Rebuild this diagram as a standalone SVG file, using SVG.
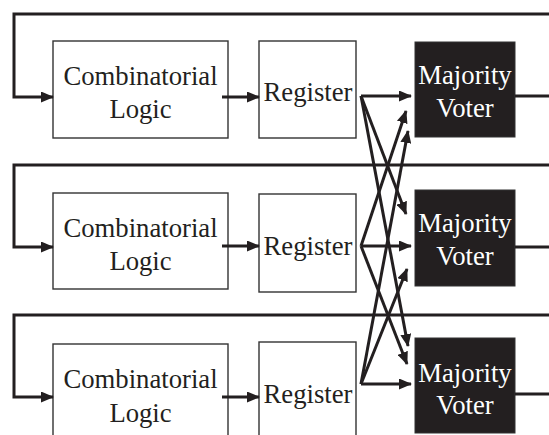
<svg xmlns="http://www.w3.org/2000/svg" width="549" height="435" viewBox="0 0 549 435">
<style>
.box{fill:#fff;stroke:#333;stroke-width:1.4}
.voter{fill:#231f20;stroke:#333;stroke-width:1}
.t{font-family:"Liberation Serif","Times New Roman",serif;font-size:26.7px;fill:#231f20;text-anchor:middle}
.tw{font-family:"Liberation Serif","Times New Roman",serif;font-size:26.7px;fill:#fff;text-anchor:middle}
.c{fill:none;stroke:#231f20;stroke-width:3}
.ca{fill:none;stroke:#231f20;stroke-width:3;marker-end:url(#ah)}
</style>
<defs>
<marker id="ah" viewBox="0 0 13 11" refX="12" refY="5.5" markerWidth="13" markerHeight="11" markerUnits="userSpaceOnUse" orient="auto">
<path d="M0,0 L13,5.5 L0,11 z" fill="#231f20"/>
</marker>
</defs>
<rect width="549" height="435" fill="#fff"/>
<g id="comb1"><rect class="box" x="53" y="41" width="175" height="97"/><text class="t" x="140.5" y="85">Combinatorial</text><text class="t" x="140.5" y="118">Logic</text></g>
<g id="reg1"><rect class="box" x="259" y="41" width="97" height="97"/><text class="t" x="308" y="101">Register</text></g>
<g id="voter1"><rect class="voter" x="415" y="42" width="100" height="95"/><text class="tw" x="465" y="84">Majority</text><text class="tw" x="465" y="117">Voter</text></g>
<g id="comb2"><rect class="box" x="53" y="193" width="175" height="96"/><text class="t" x="140.5" y="237">Combinatorial</text><text class="t" x="140.5" y="270">Logic</text></g>
<g id="reg2"><rect class="box" x="259" y="194" width="97" height="98"/><text class="t" x="308" y="255">Register</text></g>
<g id="voter2"><rect class="voter" x="415" y="190" width="100" height="96"/><text class="tw" x="465" y="232">Majority</text><text class="tw" x="465" y="265">Voter</text></g>
<g id="comb3"><rect class="box" x="53" y="344" width="175" height="120"/><text class="t" x="140.5" y="388">Combinatorial</text><text class="t" x="140.5" y="422">Logic</text></g>
<g id="reg3"><rect class="box" x="259" y="342" width="97" height="120"/><text class="t" x="308" y="403">Register</text></g>
<g id="voter3"><rect class="voter" x="415" y="338" width="100" height="95"/><text class="tw" x="465" y="382">Majority</text><text class="tw" x="465" y="414">Voter</text></g>
<g id="connectors">
<path class="ca" d="M549,14 H14 V97 H53"/>
<path class="ca" d="M549,165 H14 V247 H53"/>
<path class="ca" d="M549,315 H14 V397 H53"/>
<path class="ca" d="M222,97 H259"/>
<path class="ca" d="M222,246 H259"/>
<path class="ca" d="M222,397 H259"/>
<path class="ca" d="M361,96 H411"/>
<path class="ca" d="M361,96 L406,214"/>
<path class="ca" d="M361,96 L408,346"/>
<path class="ca" d="M361,246 L406,111"/>
<path class="ca" d="M361,246 H411"/>
<path class="ca" d="M361,246 L407,364"/>
<path class="ca" d="M361,384 L408,131"/>
<path class="ca" d="M361,384 L407,269"/>
<path class="ca" d="M361,384 H411"/>
<path class="c" d="M515,96 H549"/>
<path class="c" d="M515,247 H549"/>
<path class="c" d="M515,394 H549"/>
</g>
</svg>
